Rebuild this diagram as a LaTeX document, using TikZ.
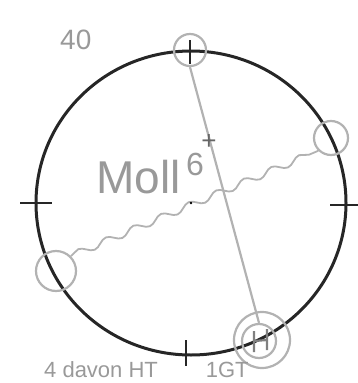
\documentclass[tikz,border=0pt]{standalone}
\usepackage{fontspec}
\setmainfont{Liberation Sans}
\usetikzlibrary{decorations.pathmorphing}
\begin{document}
\begin{tikzpicture}[x=1pt,y=-1pt,
  pencil/.style={draw=black!85,line width=3pt},
  tickmark/.style={draw=black!85,line width=1.8pt},
  grey/.style={draw=black!30,line width=2.2pt},
  greytext/.style={text=black!40,inner sep=0pt}]
\useasboundingbox (0,0) rectangle (358,383);
% main circle
\coordinate (c) at (191,203);
\draw[pencil] (c) ellipse [x radius=155, y radius=152];
% ticks
\draw[tickmark] (190,40) -- (190,64);
\draw[tickmark] (186,340) -- (186,366);
\draw[tickmark] (20,203) -- (52,203);
\draw[tickmark] (330,205) -- (358,205);
% grey markers
\node[grey,circle,minimum size=32pt,inner sep=0pt] (top) at (190,50) {};
\node[grey,circle,minimum size=56pt,inner sep=0pt] (bot) at (262,340) {};
\node[grey,circle,minimum size=34pt,inner sep=0pt] (boti) at (259,341) {};
\node[grey,circle,minimum size=40pt,inner sep=0pt] (lft) at (56,271) {};
\node[grey,circle,minimum size=34pt,inner sep=0pt] (rgt) at (331,138) {};
\draw[grey] (top.south) -- (boti.north);
\draw[draw=black!50,line width=2.2pt] (254,331) -- (254,352) (267,329) -- (267,350) (254,341) -- (267,340);
\draw[grey,line width=1.8pt,decorate,decoration={snake,amplitude=3.5pt,segment length=30pt}]
  (lft.north east) -- (rgt.south west);
\fill[black] (c) circle (1.3pt);
% texts
\node[greytext,anchor=south west,font=\fontsize{46}{46}\selectfont] (moll) at (96,194) {Moll};
\node[greytext,anchor=south west,font=\fontsize{32}{32}\selectfont] (six) at (186,176) {6};
\node[greytext,anchor=center,font=\fontsize{26}{26}\selectfont,text=black!60] (plus) at (209,142) {+};
\node[greytext,anchor=north west,font=\fontsize{28}{28}\selectfont] (forty) at (60,30) {40};
\node[greytext,anchor=south west,font=\fontsize{22}{22}\selectfont] (bottxt) at (44,378) {4 davon HT\hspace{48pt}1GT};
\end{tikzpicture}
\end{document}
